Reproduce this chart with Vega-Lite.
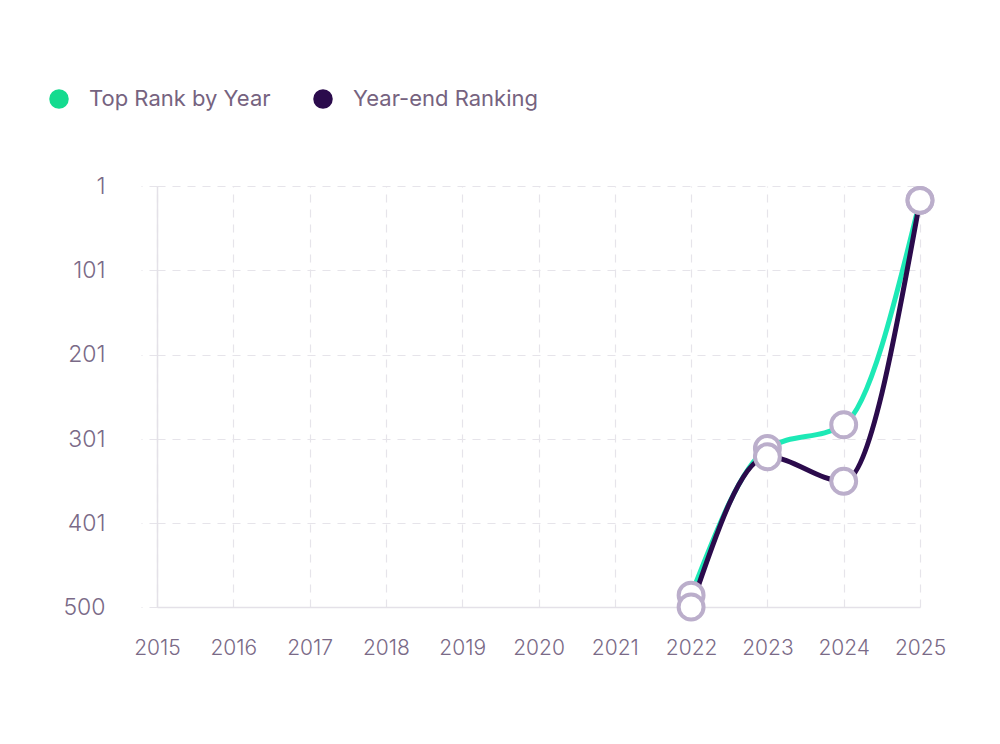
{
  "$schema": "https://vega.github.io/schema/vega-lite/v6.json",
  "width": 763,
  "height": 421,
  "autosize": {"type": "none"},
  "padding": {"left": 157, "top": 186, "right": 80, "bottom": 137},
  "background": "white",
  "config": {
    "view": {"stroke": null},
    "font": "Inter"
  },
  "data": {
    "values": [
      {"year": 2022, "series": "Top Rank by Year", "rank": 486},
      {"year": 2023, "series": "Top Rank by Year", "rank": 312},
      {"year": 2024, "series": "Top Rank by Year", "rank": 284},
      {"year": 2025, "series": "Top Rank by Year", "rank": 18},
      {"year": 2022, "series": "Year-end Ranking", "rank": 500},
      {"year": 2023, "series": "Year-end Ranking", "rank": 322},
      {"year": 2024, "series": "Year-end Ranking", "rank": 351},
      {"year": 2025, "series": "Year-end Ranking", "rank": 18}
    ]
  },
  "encoding": {
    "x": {
      "field": "year",
      "type": "quantitative",
      "scale": {"domain": [2015, 2025], "nice": false, "zero": false},
      "axis": {
        "title": null,
        "values": [2015, 2016, 2017, 2018, 2019, 2020, 2021, 2022, 2023, 2024, 2025],
        "format": "d",
        "labelFont": "Inter",
        "labelFontSize": 21,
        "labelFontWeight": 300,
        "labelColor": "#7a6a87",
        "labelPadding": 30,
        "ticks": false,
        "domain": true,
        "domainColor": "#e4e1e8",
        "domainWidth": 1.5,
        "grid": true,
        "gridColor": "#e6e4ea",
        "gridDash": [8, 7],
        "gridWidth": 1.2,
        "labelFlush": false
      }
    },
    "y": {
      "field": "rank",
      "type": "quantitative",
      "scale": {"domain": [1, 500], "reverse": true, "nice": false, "zero": false},
      "axis": {
        "title": null,
        "values": [1, 101, 201, 301, 401, 500],
        "labelFont": "Inter",
        "labelFontSize": 23,
        "labelFontWeight": 300,
        "labelColor": "#7a6a87",
        "labelPadding": 36,
        "ticks": true,
        "tickSize": 16,
        "tickColor": "#e6e4ea",
        "tickDash": [8, 7],
        "tickWidth": 1.2,
        "domain": true,
        "domainColor": "#e4e1e8",
        "domainWidth": 1.5,
        "grid": true,
        "gridColor": "#e6e4ea",
        "gridDash": [8, 7],
        "gridWidth": 1.2,
        "labelFlush": false
      }
    }
  },
  "layer": [
    {
      "mark": {"type": "line", "interpolate": "monotone", "strokeWidth": 5},
      "encoding": {
        "color": {
          "field": "series",
          "type": "nominal",
          "scale": {"domain": ["Top Rank by Year", "Year-end Ranking"], "range": ["#1de9b6", "#2b0b4c"]},
          "legend": {
            "title": null,
            "orient": "none",
            "direction": "horizontal",
            "legendX": -109,
            "legendY": -98,
            "symbolType": "circle",
            "symbolSize": 380,
            "symbolStrokeWidth": 0,
            "labelFont": "Inter",
            "labelFontSize": 22,
            "labelColor": "#76637f",
            "labelOffset": 19,
            "columnPadding": 41,
            "labelLimit": 400,
            "encode": {
              "symbols": {
                "update": {
                  "fill": {"signal": "datum.value === 'Top Rank by Year' ? '#14db8f' : '#2b0b4c'"},
                  "fillOpacity": {"value": 1},
                  "strokeWidth": {"value": 0}
                }
              }
            }
          }
        },
        "detail": {"field": "series"}
      }
    },
    {
      "mark": {"type": "point", "filled": true, "fill": "white", "stroke": "#bbaecb", "strokeWidth": 4, "size": 620, "opacity": 1},
      "encoding": {}
    }
  ]
}
